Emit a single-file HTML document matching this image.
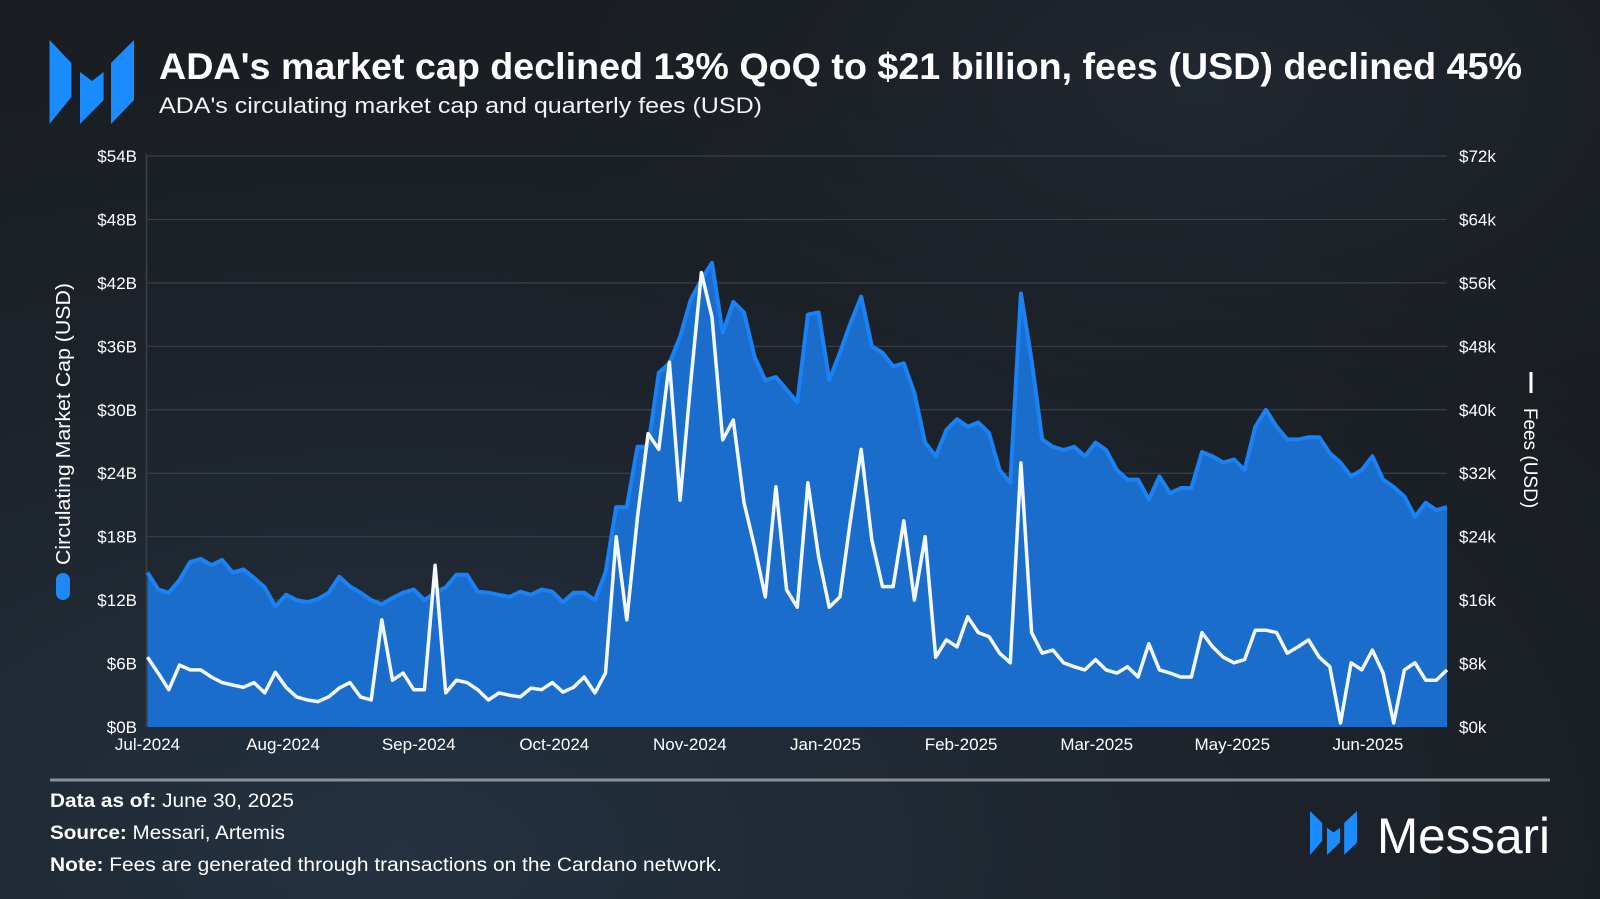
<!DOCTYPE html>
<html><head><meta charset="utf-8"><style>
html,body{margin:0;padding:0;width:1600px;height:899px;overflow:hidden;background:#1b1f25}
svg{display:block;font-family:"Liberation Sans",sans-serif}
</style></head><body>
<svg id="c" width="1600" height="899" viewBox="0 0 1600 899">
<defs>
<radialGradient id="bg" cx="0.25" cy="0.95" r="0.9">
<stop offset="0" stop-color="#243140"/><stop offset="0.6" stop-color="#1d232b"/><stop offset="1" stop-color="#1a1e23"/>
</radialGradient>
<radialGradient id="bg2" cx="0.75" cy="0.1" r="0.5">
<stop offset="0" stop-color="#232c37" stop-opacity="0.7"/><stop offset="1" stop-color="#1a1e23" stop-opacity="0"/>
</radialGradient>
</defs>
<rect width="1600" height="899" fill="url(#bg)"/>
<rect width="1600" height="899" fill="url(#bg2)"/>
<g fill="#1a8cff">
<polygon points="49.5,40 71.4,63 71.4,97 49.5,124"/>
<polygon points="80,72 92,81 103.6,72 103.6,100 80,124"/>
<polygon points="111,63 134,40 134,100 111,124"/>
</g>
<text x="159" y="79" font-size="37" font-weight="bold" fill="#ffffff" textLength="1363" lengthAdjust="spacingAndGlyphs">ADA's market cap declined 13% QoQ to $21 billion, fees (USD) declined 45%</text>
<text x="159" y="113" font-size="22" fill="#f0f2f5" textLength="603" lengthAdjust="spacingAndGlyphs">ADA's circulating market cap and quarterly fees (USD)</text>
<g id="grid"></g>
<g id="marks"></g>
<g id="axes"></g>
<g>
<text transform="translate(70,424) rotate(-90)" text-anchor="middle" font-size="20" fill="#ffffff" textLength="282" lengthAdjust="spacingAndGlyphs">Circulating Market Cap (USD)</text>
<rect x="56" y="573" width="14" height="27" rx="7" fill="#1e88f5"/>
</g>
<g>
<rect x="1529.5" y="372" width="3" height="21" fill="#ffffff"/>
<text transform="translate(1524,458) rotate(90)" text-anchor="middle" font-size="19" fill="#ffffff">Fees (USD)</text>
</g>
<rect x="50" y="778.5" width="1500" height="3" fill="#8a8f96"/>
<text x="50" y="807" font-size="19" fill="#ffffff" textLength="244" lengthAdjust="spacingAndGlyphs"><tspan font-weight="bold">Data as of:</tspan> June 30, 2025</text>
<text x="50" y="839" font-size="19" fill="#ffffff" textLength="235" lengthAdjust="spacingAndGlyphs"><tspan font-weight="bold">Source:</tspan> Messari, Artemis</text>
<text x="50" y="871" font-size="19" fill="#ffffff" textLength="672" lengthAdjust="spacingAndGlyphs"><tspan font-weight="bold">Note:</tspan> Fees are generated through transactions on the Cardano network.</text>
<g>
<g transform="translate(1310,811) scale(0.556,0.524) translate(-49.5,-40)" fill="#1a8cff">
<polygon points="49.5,40 71.4,63 71.4,97 49.5,124"/>
<polygon points="80,72 92,81 103.6,72 103.6,100 80,124"/>
<polygon points="111,63 134,40 134,100 111,124"/>
</g>
<text x="1377" y="853" font-size="50" fill="#ffffff" textLength="173" lengthAdjust="spacingAndGlyphs">Messari</text>
</g>
</svg>
<script>
const capValues=[14.6,13.0,12.7,13.9,15.6,15.9,15.3,15.8,14.6,14.9,14.1,13.2,11.4,12.5,12.0,11.8,12.1,12.7,14.2,13.3,12.7,12.0,11.6,12.2,12.7,13.0,12.0,12.7,13.2,14.4,14.4,12.8,12.7,12.5,12.3,12.8,12.5,13.0,12.8,11.8,12.7,12.7,12.0,14.6,20.8,20.8,26.5,26.5,33.5,34.4,36.9,40.4,42.3,43.9,37.3,40.2,39.2,35.0,32.8,33.1,31.9,30.7,39.0,39.2,32.8,35.4,38.2,40.7,36.0,35.4,34.1,34.4,31.6,26.9,25.6,28.1,29.1,28.4,28.8,27.8,24.3,23.1,41.0,34.7,27.2,26.5,26.2,26.5,25.6,26.9,26.2,24.3,23.4,23.4,21.5,23.7,22.1,22.6,22.6,26.0,25.6,25.0,25.3,24.3,28.4,30.0,28.4,27.2,27.2,27.4,27.4,25.9,25.0,23.7,24.3,25.6,23.4,22.7,21.8,19.9,21.2,20.5,20.8];
const feeValues=[8.8,6.8,4.7,7.8,7.2,7.2,6.3,5.6,5.3,5.0,5.6,4.3,6.9,5.0,3.8,3.4,3.2,3.8,4.9,5.6,3.8,3.4,13.5,5.9,6.8,4.7,4.7,20.4,4.3,5.9,5.6,4.7,3.4,4.3,4.0,3.8,4.9,4.7,5.6,4.4,5.0,6.3,4.3,6.8,24.0,13.5,26.5,37.0,35.0,46.0,28.6,43.4,57.3,51.7,36.2,38.7,28.3,22.7,16.4,30.3,17.3,15.1,30.8,21.5,15.1,16.4,26.1,35.0,23.6,17.7,17.7,26.0,16.0,24.0,8.8,11.0,10.1,13.9,11.9,11.4,9.3,8.1,33.3,11.9,9.3,9.7,8.1,7.6,7.2,8.5,7.2,6.8,7.6,6.3,10.5,7.2,6.8,6.3,6.3,11.9,10.1,8.8,8.1,8.5,12.2,12.2,11.9,9.3,10.1,11.0,8.8,7.6,0.5,8.1,7.2,9.7,6.8,0.5,7.2,8.1,5.9,5.9,7.2];
const leftTicks=[0,6,12,18,24,30,36,42,48,54];
const leftTickLabels=["$0B","$6B","$12B","$18B","$24B","$30B","$36B","$42B","$48B","$54B"];
const rightTicks=[0,8,16,24,32,40,48,56,64,72];
const rightTickLabels=["$0k","$8k","$16k","$24k","$32k","$40k","$48k","$56k","$64k","$72k"];
const xLabels=["Jul-2024","Aug-2024","Sep-2024","Oct-2024","Nov-2024","Jan-2025","Feb-2025","Mar-2025","May-2025","Jun-2025"];

const NS="http://www.w3.org/2000/svg";
const X0=147.5,X1=1447,Y0=727,Y1=156;
const n=capValues.length;
const xs=i=>X0+(X1-X0)*i/(n-1);
const yL=v=>Y0+(Y1-Y0)*v/54;
const yR=v=>Y0+(Y1-Y0)*v/72;
function mk(tag,attrs,parent){const e=document.createElementNS(NS,tag);for(const k in attrs)e.setAttribute(k,attrs[k]);parent.appendChild(e);return e;}
const grid=document.getElementById('grid'),marks=document.getElementById('marks'),axes=document.getElementById('axes');
leftTicks.forEach((t,i)=>{
 const y=yL(t);
 if(i>0){const l=mk('line',{x1:X0,x2:X1,y1:y,y2:y,stroke:'#3b4048','stroke-width':1.2},grid);
 
 }
 const tx=mk('text',{x:137,y:y+6,'text-anchor':'end','font-size':17,fill:'#ffffff'},axes);
 tx.textContent=leftTickLabels[i];
 
 
});
rightTicks.forEach((t,i)=>{
 const tx=mk('text',{x:1459,y:yR(t)+6,'font-size':17,fill:'#ffffff'},axes);
 tx.textContent=rightTickLabels[i];
 
 
});
const ax=mk('line',{x1:X0-1,x2:X0-1,y1:Y1-2,y2:Y0,stroke:'#3b4048','stroke-width':1.5},grid);


xLabels.forEach((s,k)=>{
 const x=X0+k*135.6;
 const tx=mk('text',{x:x,y:750,'text-anchor':'middle','font-size':17,fill:'#ffffff'},axes);
 tx.textContent=s;
 
 
});
let cp='';capValues.forEach((v,i)=>{cp+=(i?'L':'M')+xs(i).toFixed(1)+','+yL(v).toFixed(1);});
const area=mk('path',{d:cp+'L'+xs(n-1)+','+Y0+'L'+X0+','+Y0+'Z',fill:'#1b6dcb'},marks);


const cl=mk('path',{d:cp,fill:'none',stroke:'#1a82f4','stroke-width':4,'stroke-linejoin':'round'},marks);


let fp='';feeValues.forEach((v,i)=>{fp+=(i?'L':'M')+xs(i).toFixed(1)+','+yR(v).toFixed(1);});
const fl=mk('path',{d:fp,fill:'none',stroke:'#f4f8ff','stroke-width':3.5,'stroke-linejoin':'round'},marks);


</script>
</body></html>
